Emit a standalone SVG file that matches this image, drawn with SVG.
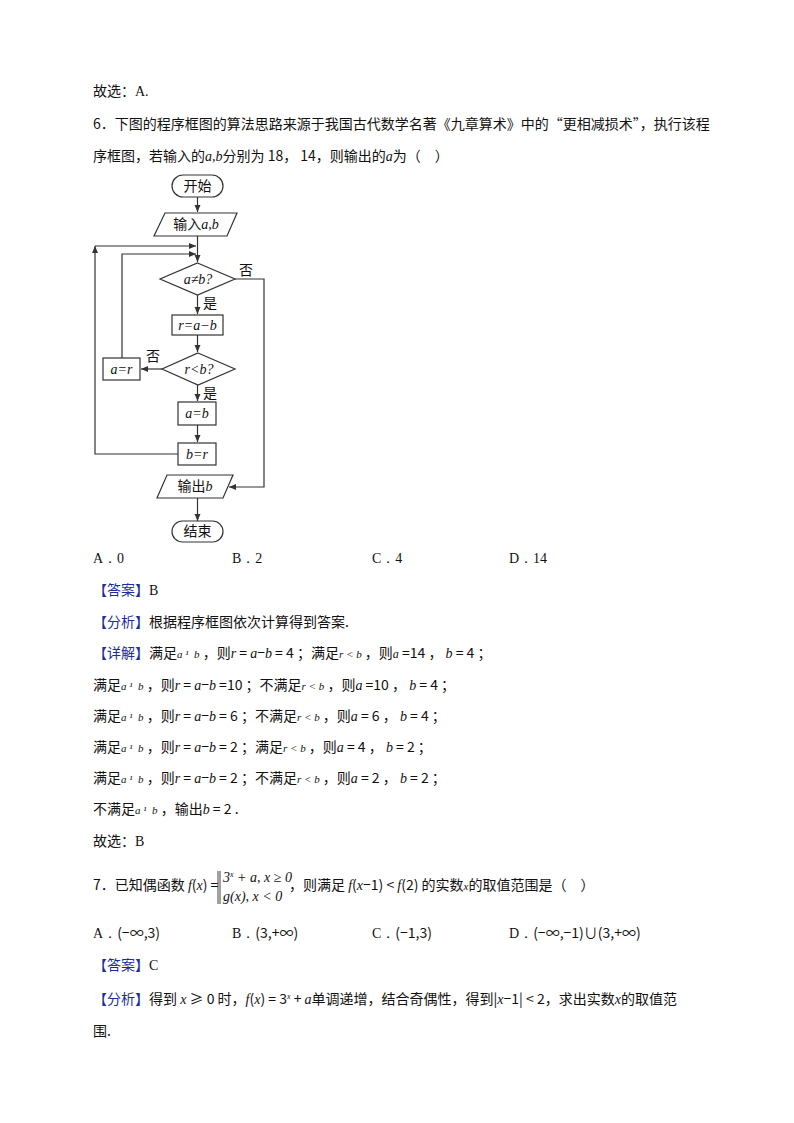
<svg xmlns="http://www.w3.org/2000/svg" width="794" height="1123" viewBox="0 0 794 1123">
<style>
text{font-family:"Noto Sans CJK SC","Liberation Sans",sans-serif;font-size:14px;fill:#111}
.m{font-family:"Liberation Serif",serif;font-style:italic}
.n{font-family:"Liberation Serif",serif}
.b{fill:#1a2f9a}
.s{fill:#fff;stroke:#333;stroke-width:1.2}
.l{fill:none;stroke:#333;stroke-width:1.2;marker-end:url(#a)}
.fc{font-size:14px}
</style>
<defs><marker id="a" markerWidth="8" markerHeight="8" refX="7" refY="4" orient="auto" markerUnits="userSpaceOnUse"><path d="M0,1 L7,4 L0,7 Z" fill="#333"/></marker></defs>
<rect width="794" height="1123" fill="#fff"/>
<text x="93" y="96">故选：<tspan class="n">A.</tspan></text>
<text x="93" y="129">6．下图的程序框图的算法思路来源于我国古代数学名著《九章算术》中的“更相减损术”，执行该程</text>
<text x="93" y="161">序框图，若输入的<tspan class="m">a,b</tspan>分别为 18， 14，则输出的<tspan class="m">a</tspan>为（　）</text>
<g id="connectors">
<path class="l" d="M197.5,197 V212"/>
<path class="l" d="M197.5,236 V262"/>
<path class="l" d="M95,246 H196"/>
<path class="l" d="M122,358 V254 H196"/>
<path class="l" d="M197.5,295 V314"/>
<path class="l" d="M197.5,335 V352"/>
<path class="l" d="M162,369 H141"/>
<path class="l" d="M197.5,385 V401"/>
<path class="l" d="M197.5,425 V442"/>
<path class="l" d="M178,454 H95 V246"/>
<path class="l" d="M235,279 H264 V487 H229"/>
<path class="l" d="M197.5,498 V521"/>
</g>
<g id="start"><rect class="s" x="172" y="175" width="51" height="22" rx="11"/><text x="197.5" y="191" text-anchor="middle" class="fc">开始</text></g>
<g id="input"><polygon class="s" points="165,213 237,213 227,236 154,236"/><text x="196" y="229" text-anchor="middle" class="fc">输入<tspan class="m">a,b</tspan></text></g>
<g id="d1"><polygon class="s" points="197.5,263 235,279 197.5,295 160,279"/><text x="198" y="284" text-anchor="middle" class="m fc">a≠b?</text></g>
<g id="r1"><rect class="s" x="172" y="315" width="51" height="20"/><text x="197.5" y="330" text-anchor="middle" class="m fc">r=a−b</text></g>
<g id="d2"><polygon class="s" points="198,353 235,369 198,385 162,369"/><text x="199" y="374" text-anchor="middle" class="m fc">r&lt;b?</text></g>
<g id="r2"><rect class="s" x="103" y="358" width="37" height="22"/><text x="121.5" y="374" text-anchor="middle" class="m fc">a=r</text></g>
<g id="r3"><rect class="s" x="178" y="402" width="38" height="23"/><text x="197" y="418" text-anchor="middle" class="m fc">a=b</text></g>
<g id="r4"><rect class="s" x="178" y="443" width="38" height="22"/><text x="197" y="459" text-anchor="middle" class="m fc">b=r</text></g>
<g id="output"><polygon class="s" points="167,475 233,475 223,498 157,498"/><text x="195" y="491" text-anchor="middle" class="fc">输出<tspan class="m">b</tspan></text></g>
<g id="end"><rect class="s" x="172" y="521" width="51" height="21" rx="10.5"/><text x="197.5" y="536" text-anchor="middle" class="fc">结束</text></g>
<text x="239" y="275" class="fc">否</text>
<text x="203" y="308" class="fc">是</text>
<text x="146" y="361" class="fc">否</text>
<text x="203" y="398" class="fc">是</text>
<text x="93" y="563" class="n">A．0</text><text x="232" y="563" class="n">B．2</text><text x="372" y="563" class="n">C．4</text><text x="509" y="563" class="n">D．14</text>
<text x="93" y="595"><tspan class="b">【答案】</tspan><tspan class="n">B</tspan></text>
<text x="93" y="627"><tspan class="b">【分析】</tspan>根据程序框图依次计算得到答案.</text>
<text x="93" y="658" xml:space="preserve"><tspan class="b">【详解】</tspan>满足<tspan class="m" font-size="11">a ¹  b</tspan> ，则<tspan class="m">r</tspan> = <tspan class="m">a</tspan>−<tspan class="m">b</tspan> = 4 ；满足<tspan class="m" font-size="11">r &lt; b</tspan> ，则<tspan class="m" font-size="12">a</tspan> =14 ， <tspan class="m">b</tspan> = 4 ；</text>
<text x="93" y="690" xml:space="preserve">满足<tspan class="m" font-size="11">a ¹  b</tspan> ，则<tspan class="m">r</tspan> = <tspan class="m">a</tspan>−<tspan class="m">b</tspan> =10 ；不满足<tspan class="m" font-size="11">r &lt; b</tspan> ，则<tspan class="m">a</tspan> =10 ， <tspan class="m">b</tspan> = 4 ；</text>
<text x="93" y="721" xml:space="preserve">满足<tspan class="m" font-size="11">a ¹  b</tspan> ，则<tspan class="m">r</tspan> = <tspan class="m">a</tspan>−<tspan class="m">b</tspan> = 6 ；不满足<tspan class="m" font-size="11">r &lt; b</tspan> ，则<tspan class="m">a</tspan> = 6 ， <tspan class="m">b</tspan> = 4 ；</text>
<text x="93" y="752" xml:space="preserve">满足<tspan class="m" font-size="11">a ¹  b</tspan> ，则<tspan class="m">r</tspan> = <tspan class="m">a</tspan>−<tspan class="m">b</tspan> = 2 ；满足<tspan class="m" font-size="11">r &lt; b</tspan> ，则<tspan class="m">a</tspan> = 4 ， <tspan class="m">b</tspan> = 2 ；</text>
<text x="93" y="783" xml:space="preserve">满足<tspan class="m" font-size="11">a ¹  b</tspan> ，则<tspan class="m">r</tspan> = <tspan class="m">a</tspan>−<tspan class="m">b</tspan> = 2 ；不满足<tspan class="m" font-size="11">r &lt; b</tspan> ，则<tspan class="m">a</tspan> = 2 ， <tspan class="m">b</tspan> = 2 ；</text>
<text x="93" y="814" xml:space="preserve">不满足<tspan class="m" font-size="11">a ¹  b</tspan> ，输出<tspan class="m">b</tspan> = 2 .</text>
<text x="93" y="846">故选：<tspan class="n">B</tspan></text>
<text x="93" y="890">7．已知偶函数 <tspan class="m">f</tspan>(<tspan class="m">x</tspan>) =</text>
<path d="M218,871 V904 M220,871 V904" stroke="#111" stroke-width="0.8"/>
<text x="223" y="882" class="m" font-size="13">3<tspan font-size="8" dy="-5">x</tspan><tspan dy="5"> + a, x ≥ 0</tspan></text>
<text x="223" y="901" class="m" font-size="13">g(x), x &lt; 0</text>
<text x="289" y="890">，则满足 <tspan class="m">f</tspan>(<tspan class="m">x</tspan>−1) &lt; <tspan class="m">f</tspan>(2) 的实数<tspan class="m" font-size="11">x</tspan>的取值范围是（　）</text>
<text x="93" y="938"><tspan class="n">A．</tspan>(−∞,3)</text>
<text x="232" y="938"><tspan class="n">B．</tspan>(3,+∞)</text>
<text x="372" y="938"><tspan class="n">C．</tspan>(−1,3)</text>
<text x="509" y="938"><tspan class="n">D．</tspan>(−∞,−1)∪(3,+∞)</text>
<text x="93" y="970"><tspan class="b">【答案】</tspan><tspan class="n">C</tspan></text>
<text x="93" y="1004"><tspan class="b">【分析】</tspan>得到 <tspan class="m">x</tspan> ≥ 0 时，<tspan class="m">f</tspan>(<tspan class="m">x</tspan>) = 3<tspan font-size="8" dy="-5" class="m">x</tspan><tspan dy="5"> + </tspan><tspan class="m">a</tspan>单调递增，结合奇偶性，得到|<tspan class="m">x</tspan>−1| &lt; 2，求出实数<tspan class="m">x</tspan>的取值范</text>
<text x="93" y="1036">围.</text>
</svg>
